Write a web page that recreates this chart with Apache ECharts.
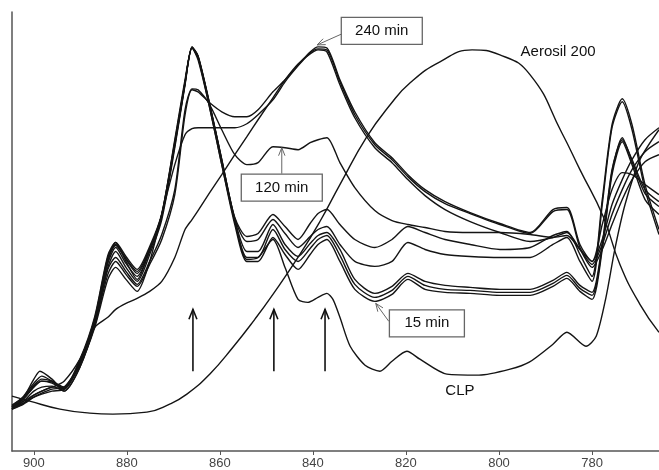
<!DOCTYPE html>
<html><head><meta charset="utf-8">
<script src="https://cdn.jsdelivr.net/npm/echarts@6/dist/echarts.min.js"></script>
<style>html,body{margin:0;padding:0;background:#fff}#c{width:659px;height:470px}</style>
</head><body><div id="c"></div>
<script>
// wavenumber grid (cm-1) shared by the time-resolved spectra
const wavenumber = [904.7,902.2,900.0,898.3,896.1,893.5,890.1,886.9,884.1,882.4,880.2,877.8,875.1,872.5,869.7,867.5,866.0,864.7,862.2,859.6,856.8,854.2,851.8,848.6,846.0,843.2,840.6,838.9,837.0,834.2,831.0,826.7,823.0,819.6,815.9,811.6,806.2,799.8,793.3,788.4,785.4,782.6,780.0,777.8,775.7,773.5,771.4,768.6,765.6];
// absorbance (arbitrary units)
const min15 = [42,50,60,64,65,60,84,127,184,200,184,170,197,232,304,367,404,394,344,287,227,190,190,214,197,182,197,207,212,190,162,150,157,172,162,159,158,156,156,165,173,160,152,202,277,310,287,252,237];
const min30 = [44,52,64,70,68,62,88,130,188,204,188,175,200,235,306,368,405,395,346,290,230,194,194,222,202,190,203,212,216,196,167,154,161,175,166,162,161,159,159,168,176,163,156,205,280,314,290,258,245];
const min45 = [45,55,68,75,70,62,90,132,192,206,192,178,202,237,308,369,405,396,347,292,232,200,200,227,207,195,208,216,219,202,172,158,165,178,170,166,164,162,162,171,179,166,159,208,282,312,292,262,250];
const min60 = [44,53,65,70,69,63,90,133,194,207,193,180,203,236,308,369,404,395,347,291,233,210,212,232,218,204,215,222,225,207,190,185,190,209,202,197,195,194,194,207,214,190,170,247,324,350,322,262,217];
const min90 = [46,54,66,72,70,64,92,135,196,209,195,182,205,238,310,370,404,396,348,292,234,215,218,237,225,212,228,238,242,227,212,204,212,225,219,212,207,202,204,216,220,197,175,252,327,353,327,267,222];
const min120 = [42,48,56,60,64,64,87,127,182,194,180,167,190,217,262,342,363,362,347,322,297,287,289,305,304,302,309,312,314,289,264,241,231,227,224,220,219,219,217,214,216,202,190,227,262,279,277,267,257];
const min180 = [44,50,56,60,64,70,92,124,134,142,148,153,160,170,194,222,232,241,259,277,297,315,332,354,372,388,398,402,400,367,334,304,289,272,256,242,230,219,210,214,219,202,184,202,227,252,272,290,297];
const min210 = [43,48,54,57,60,62,86,124,172,184,172,160,190,237,287,317,323,324,324,324,324,328,337,352,370,386,399,403,402,370,337,307,292,275,260,248,238,227,218,240,242,204,187,207,237,262,282,300,310];
const min240 = [42,47,54,58,62,64,87,126,177,190,177,165,187,212,257,337,362,360,349,340,335,335,342,360,372,387,400,405,404,372,340,309,294,277,262,250,239,228,219,242,244,207,190,212,247,272,292,312,324];
// pure clopidogrel (CLP)
const clpWn = [904.7,902.2,900.0,898.7,896.1,893.5,890.1,886.9,884.1,882.4,880.2,877.8,875.1,872.5,869.7,867.5,866.0,864.7,862.2,859.6,856.8,854.2,851.8,848.6,846.0,843.2,841.1,838.9,837.0,835.7,834.2,832.0,828.8,825.6,823.0,819.8,817.0,811.2,804.3,797.6,793.5,788.4,785.4,781.3,779.1,777.0,775.1,772.9,769.7,765.6];
const clpAbs = [42,54,72,80,72,60,84,130,190,209,190,172,202,237,312,372,404,392,344,287,230,192,194,212,184,152,149,154,158,152,134,105,86,80,90,100,92,77,76,82,89,107,119,105,115,154,202,247,292,322];
// Aerosil 200
const aeroWn = [904.7,900.9,894.4,888.0,883.0,875.7,870.8,867.1,862.2,857.2,852.5,848.6,842.8,838.5,834.2,828.4,823.4,819.1,812.7,805.8,799.8,793.3,786.5,782.6,777.6,774.0,769.7,765.6];
const aeroAbs = [55,50,42,38,37,39,47,57,77,104,132,157,197,230,267,315,347,369,390,402,397,377,319,282,235,187,147,119];
const xTicks = [900,880,860,840,820,800,780];

const spectra = [
  ['15 min', min15], ['30 min', min30], ['45 min', min45], ['60 min', min60], ['90 min', min90],
  ['120 min', min120], ['180 min', min180], ['210 min', min210], ['240 min', min240]
];
const lineStyle = {color:'#141414', width:1.4};
const series = spectra.map(([name, arr]) => ({
  type:'line', name, data: wavenumber.map((w,i)=>[w, arr[i]]),
  symbol:'none', smooth:0.25, lineStyle, silent:true
}));
series.push({type:'line', name:'CLP', data: clpWn.map((w,i)=>[w, clpAbs[i]]), symbol:'none', smooth:0.25, lineStyle, silent:true});
series.push({type:'line', name:'Aerosil 200', data: aeroWn.map((w,i)=>[w, aeroAbs[i]]), symbol:'none', smooth:0.5, lineStyle, silent:true});

const option = {
  animation:false,
  grid:{left:12, right:0, top:12, bottom:18},
  xAxis:{type:'value', inverse:true, min:765.6, max:904.7,
    axisLine:{lineStyle:{color:'#555', width:1.5}},
    axisTick:{show:true, length:4, customValues:xTicks, lineStyle:{color:'#555'}},
    axisLabel:{customValues:xTicks, color:'#444', fontSize:13, fontFamily:'Liberation Sans, Arial, sans-serif', margin:6},
    splitLine:{show:false}},
  yAxis:{type:'value', min:0, max:440,
    axisLine:{show:true, lineStyle:{color:'#555', width:1.5}},
    axisTick:{show:false}, axisLabel:{show:false}, splitLine:{show:false}},
  series
};
const chart = echarts.init(document.getElementById('c'), null, {renderer:'canvas'});
chart.setOption(option);

// annotations in data coordinates
const boxes = [
  {text:'240 min', wn:825.2, a:421, w:81, h:27},
  {text:'120 min', wn:846.7, a:264, w:81, h:27},
  {text:'15 min', wn:815.5, a:128, w:75, h:27}
];
const texts = [
  {text:'CLP', wn:808.4, a:60},
  {text:'Aerosil 200', wn:787.3, a:400}
];
const pointers = [
  {from:[833.8,418], to:[839.1,407], color:'#666', w:1, head:8},
  {from:[846.7,278], to:[846.7,304], color:'#666', w:1, head:8},
  {from:[823.7,130], to:[826.5,148], color:'#666', w:1, head:8},
  {from:[865.8,80], to:[865.8,142], color:'#111', w:1.6, head:10},
  {from:[848.4,80], to:[848.4,142], color:'#111', w:1.6, head:10},
  {from:[837.4,80], to:[837.4,142], color:'#111', w:1.6, head:10}
];
const P = (wn,a) => chart.convertToPixel({gridIndex:0}, [wn,a]);
const g = [];
const font = '15px "Liberation Sans", Arial, sans-serif';
boxes.forEach(b => {
  const c = P(b.wn, b.a);
  g.push({type:'rect', shape:{x:c[0]-b.w/2, y:c[1]-b.h/2, width:b.w, height:b.h}, style:{fill:'#fff', stroke:'#666', lineWidth:1.3}, z:10});
  g.push({type:'text', x:c[0], y:c[1], style:{text:b.text, font, fill:'#111', align:'center', verticalAlign:'middle'}, z:11});
});
texts.forEach(t => {
  const c = P(t.wn, t.a);
  g.push({type:'text', x:c[0], y:c[1], style:{text:t.text, font, fill:'#111', align:'center', verticalAlign:'middle'}, z:11});
});
pointers.forEach(p => {
  const a = P(p.from[0], p.from[1]), b = P(p.to[0], p.to[1]);
  const dx=b[0]-a[0], dy=b[1]-a[1], L=Math.hypot(dx,dy), ux=dx/L, uy=dy/L;
  const hx=b[0]-ux*p.head, hy=b[1]-uy*p.head, nx=-uy*p.head*0.4, ny=ux*p.head*0.4;
  g.push({type:'line', shape:{x1:a[0],y1:a[1],x2:b[0],y2:b[1]}, style:{stroke:p.color, lineWidth:p.w}, z:12});
  g.push({type:'polyline', shape:{points:[[hx+nx,hy+ny],[b[0],b[1]],[hx-nx,hy-ny]]}, style:{stroke:p.color, lineWidth:p.w, fill:null}, z:12});
});
chart.setOption({graphic:g});
</script></body></html>
